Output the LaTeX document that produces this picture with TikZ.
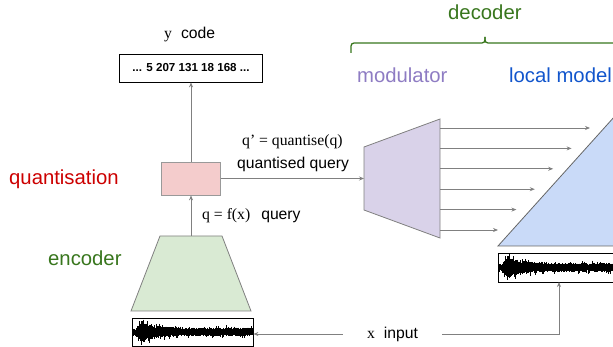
\documentclass[tikz,border=0pt]{standalone}
\usepackage{fontspec}
\setmainfont{Liberation Sans}
\newfontfamily\serifq{Liberation Serif}
\usetikzlibrary{arrows.meta}
\definecolor{grisfleche}{HTML}{808080}
\definecolor{rougetexte}{HTML}{CC0000}
\definecolor{verttexte}{HTML}{38761D}
\definecolor{violettexte}{HTML}{8E7CC3}
\definecolor{bleutexte}{HTML}{1155CC}
\definecolor{fondquant}{HTML}{F4CCCC}
\definecolor{fondenc}{HTML}{D9EAD3}
\definecolor{fondmod}{HTML}{D9D2E9}
\definecolor{fondlocal}{HTML}{C9DAF8}
\newcommand\onde[4]{% x0, milieu, demi-hauteur, nombre de pas
	\foreach \i in {0,...,#4}{
		\pgfmathsetmacro\t{\i*0.5}
		\pgfmathsetmacro\env{\t<9 ? 0.28+0.72*(\t/9)^2 : 0.36+0.64*exp(-(\t-9)/11)}
		\pgfmathsetmacro\ah{#3*\env*(0.55+0.45*rnd)*(1+0.45*(rnd>0.88))}
		\pgfmathsetmacro\ab{#3*\env*(0.55+0.45*rnd)*(1+0.45*(rnd>0.88))}
		\draw[trait] (#1+\t,{#2-min(\ah,#3)}) -- (#1+\t,{#2+min(\ab,#3)});
	}}
\begin{document}
\begin{tikzpicture}[x=1pt,y=-1pt]
			\tikzstyle{fleche}=[draw=grisfleche,line width=0.8pt,-{Stealth[length=5pt,width=4pt]}]
			\tikzstyle{texte}=[inner sep=0pt,anchor=base west]
			\tikzstyle{grand}=[texte,font=\fontsize{20.3}{24}\selectfont]
			\tikzstyle{petit}=[texte,font=\fontsize{15.7}{18}\selectfont]
			\tikzstyle{boite}=[draw=black,line width=0.8pt,inner sep=0pt]
			\tikzstyle{trait}=[line width=0.55pt,black]
			\def\AxeCentral{191}
			\def\NiveauFleches{128}
			\def\PasFleches{20.4}
			\clip (0,0) rectangle (613,347);
			% formes
			\draw[draw=grisfleche,fill=fondenc,line width=0.8pt] (160,236) -- (222,236) -- (251,311) -- (131,311) -- cycle;
			\draw[draw=grisfleche,fill=fondmod,line width=0.8pt] (364,147) -- (440,119) -- (440,238) -- (364,210) -- cycle;
			\draw[draw=gray!80!black,fill=fondlocal,line width=0.8pt] (498,246) -- (660,246) -- (660,66) -- cycle;
			\draw[verttexte,line width=1.3pt,rounded corners=3pt] (351,53) -- (351,43) -- (485,43) -- (485,37);
			\draw[verttexte,line width=1.3pt,rounded corners=3pt] (485,37) -- (485,43) -- (619,43) -- (619,53);
			% noeuds
			\node[boite,minimum width=143pt,minimum height=28pt,font=\fontsize{11.6}{13}\selectfont\bfseries] (code) at (\AxeCentral,68) {... 5 207 131 18 168 ...};
			\node[draw=grisfleche!80,fill=fondquant,line width=0.8pt,minimum width=59pt,minimum height=33pt,inner sep=0pt] (quant) at (\AxeCentral,178.5) {};
			\node[boite,minimum width=121pt,minimum height=28pt] (ondeG) at (192.5,332) {};
			\node[boite,minimum width=160pt,minimum height=29pt,anchor=north west] (ondeD) at (498,253) {};
			\node[petit,anchor=center,minimum width=99pt] (entree) at (392.5,334) {{\serifq x}\hspace{9pt}input};
			\coordinate (enc) at (\AxeCentral,236);
			\coordinate (modentree) at (364,178.5);
			\coordinate (ondeDbas) at (559,282);
			% ondes
			\pgfmathsetseed{7}
			\onde{133}{332}{12.5}{238}
			\pgfmathsetseed{7}
			\onde{499}{267.5}{13}{230}
			% textes
			\node[grand,verttexte] (decodeur) at (448,20) {decoder};
			\node[grand,violettexte] (modulateur) at (357,83) {modulator};
			\node[grand,bleutexte] (local) at (509,83) {local model};
			\node[grand,rougetexte] (quantisation) at (9,185) {quantisation};
			\node[grand,verttexte] (encodeur) at (48,266) {encoder};
			\node[petit] (y) at (164,39) {{\serifq y}\hspace{9pt}code};
			\node[petit] (qprime) at (242,146) {\serifq q’ = quantise(q)};
			\node[petit] (qq) at (237,169) {quantised query};
			\node[petit] (q) at (202,220) {{\serifq q = f(x)}\hspace{11pt}query};
			% fleches
			\draw[fleche] (enc) -- (quant.south);
			\draw[fleche] (quant.north) -- (code.south);
			\draw[fleche] (quant.east) -- (modentree);
			\draw[fleche] (entree.west) -- (entree.west -| ondeG.east);
			\draw[fleche] (entree.east) -| (ondeDbas);
			\foreach \k in {0,...,5}{
				\coordinate (m\k) at (440,{\NiveauFleches+\k*\PasFleches});
				\coordinate (l\k) at ({590-\k*18.4},{\NiveauFleches+\k*\PasFleches});
				\draw[fleche] (m\k) -- (l\k);
			}
		\end{tikzpicture}
\end{document}
